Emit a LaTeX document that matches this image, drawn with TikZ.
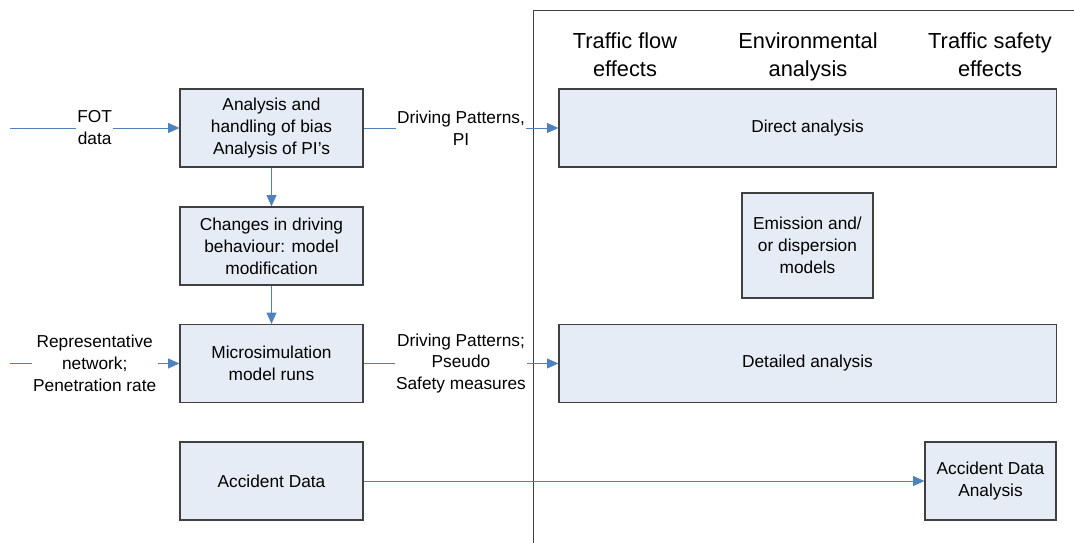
\documentclass[tikz,border=0pt]{standalone}
\usepackage{fontspec}
\setmainfont{Liberation Sans}
\usetikzlibrary{arrows.meta}
\definecolor{boxfill}{RGB}{230,236,245}
\definecolor{boxline}{RGB}{64,64,64}
\definecolor{flowblue}{RGB}{79,129,189}
\tikzset{
  stage/.style={draw=boxline, fill=boxfill, line width=0.8pt, align=center,
    inner sep=2pt, font=\fontsize{12.3}{15.6}\selectfont},
  flow/.style={draw=flowblue, line width=0.7pt, -{Triangle[length=8pt,width=7pt]}},
  flowlabel/.style={fill=white, align=center, inner sep=1pt,
    font=\fontsize{12.3}{15.6}\selectfont},
  header/.style={align=center, anchor=north, font=\fontsize{15.5}{19.4}\selectfont}
}
\begin{document}
\begin{tikzpicture}[x=0.025cm, y=-0.025cm]
      \useasboundingbox (0,0) rectangle (1074,543);

      % frame of the effects part
      \draw [boxline, line width=0.7pt] (533,543) -- (533,10) -- (1074,10);

      \node [header] (hflow) at (625,28) {Traffic flow\\effects};
      \node [header] (henv) at (808,28) {Environmental\\analysis};
      \node [header] (hsafe) at (990,28) {Traffic safety\\effects};

      % left column
      \node [stage, minimum width=4.575cm, minimum height=1.95cm] (bias) at (271.5,128)
        {Analysis and\\handling of bias\\Analysis of PI's};
      \node [stage, minimum width=4.575cm, minimum height=1.95cm] (behav) at (271.5,246)
        {Changes in driving\\behaviour: model\\modification};
      \node [stage, minimum width=4.575cm, minimum height=1.95cm] (micro) at (271.5,363.5)
        {Microsimulation\\model runs};
      \node [stage, minimum width=4.575cm, minimum height=1.95cm] (accdata) at (271.5,481)
        {Accident Data};

      % right part
      \node [stage, minimum width=12.425cm, minimum height=1.95cm] (direct) at (807.5,128)
        {Direct analysis};
      \node [stage, minimum width=3.275cm, minimum height=2.625cm] (emis) at (807.5,245.5)
        {Emission and/\\or dispersion\\models};
      \node [stage, minimum width=12.425cm, minimum height=1.95cm] (detail) at (807.5,363.5)
        {Detailed analysis};
      \node [stage, minimum width=3.275cm, minimum height=1.95cm] (accanal) at (990.5,481)
        {Accident Data\\Analysis};

      \coordinate (fotin) at (10,128);
      \coordinate (netin) at (10,363.5);

      \draw [flow] (fotin) -- (bias) node [flowlabel, midway] {FOT\\data};
      \draw [flow] (netin) -- (micro) node [flowlabel, midway] {Representative\\network;\\Penetration rate};
      \draw [flow] (bias) -- (behav);
      \draw [flow] (behav) -- (micro);
      \draw [flow] (bias) -- (direct) node [flowlabel, midway] {Driving Patterns,\\PI};
      \draw [flow] (micro) -- (detail) node [flowlabel, midway] {Driving Patterns;\\Pseudo\\Safety measures};
      \draw [flow] (accdata) -- (accanal);
    \end{tikzpicture}
\end{document}
